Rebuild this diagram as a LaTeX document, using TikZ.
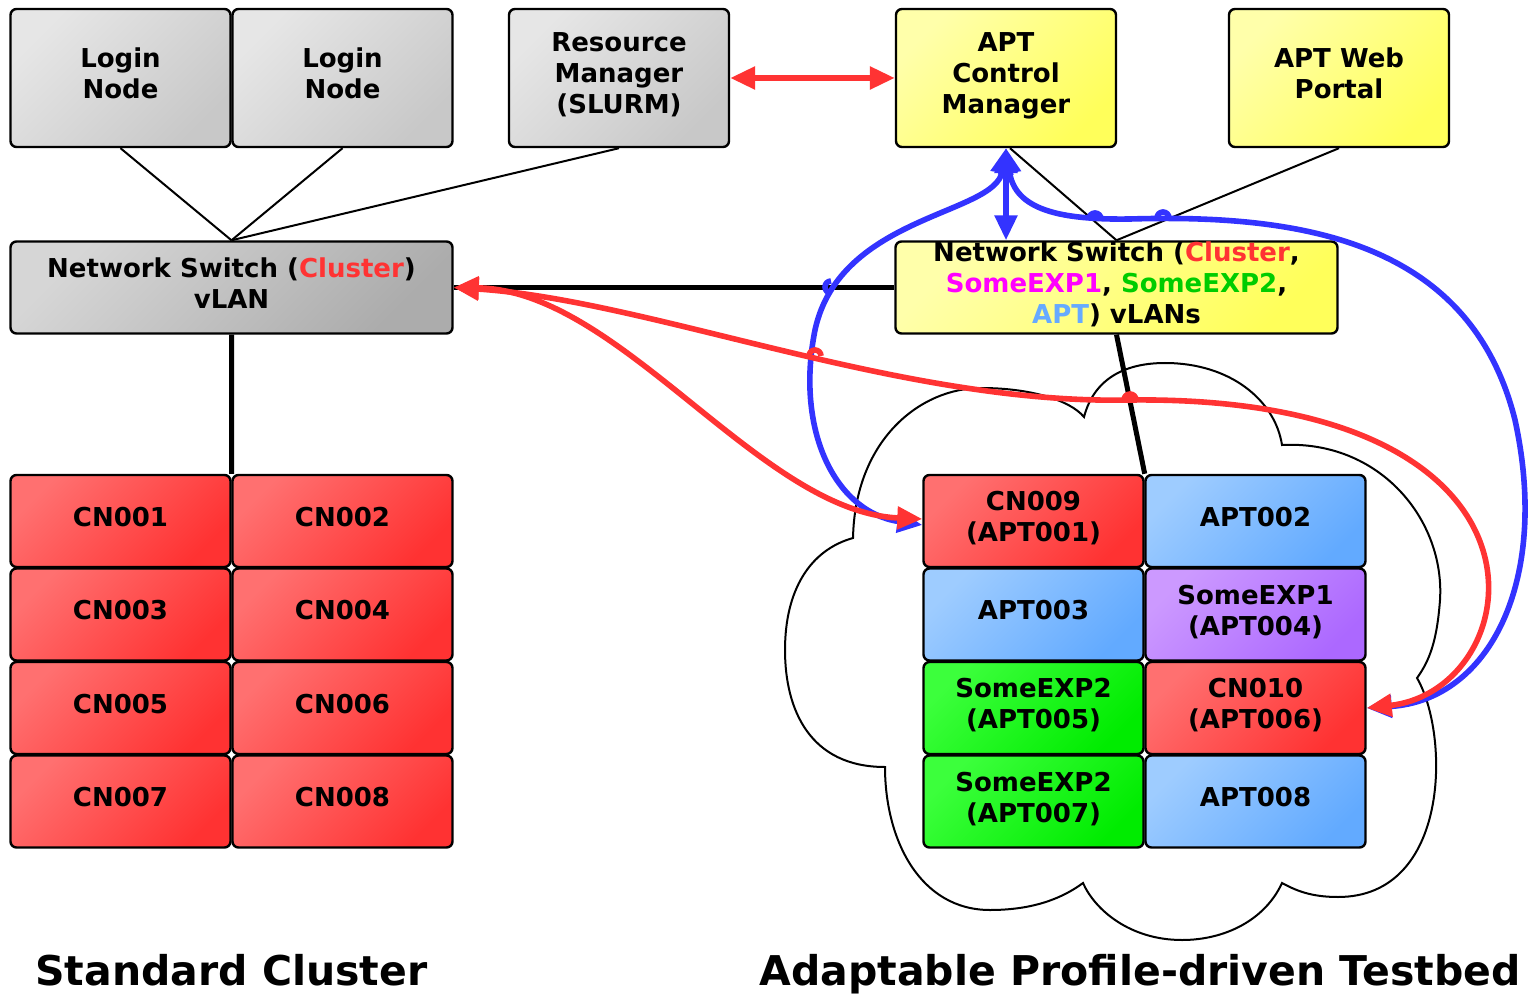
\documentclass[tikz,border=0pt]{standalone}
\usepackage{fontspec}
\setmainfont{DejaVu Sans}
\usetikzlibrary{arrows.meta}

\definecolor{grayL}{RGB}{230,230,230}
\definecolor{grayD}{RGB}{200,200,200}
\definecolor{swL}{RGB}{214,214,214}
\definecolor{swD}{RGB}{172,172,172}
\definecolor{yelL}{RGB}{255,255,170}
\definecolor{yelD}{RGB}{255,255,90}
\definecolor{redL}{RGB}{255,112,112}
\definecolor{redD}{RGB}{255,50,50}
\definecolor{bluL}{RGB}{158,204,255}
\definecolor{bluD}{RGB}{98,170,255}
\definecolor{purL}{RGB}{204,153,255}
\definecolor{purD}{RGB}{172,104,255}
\definecolor{grnL}{RGB}{60,255,60}
\definecolor{grnD}{RGB}{0,236,0}
\definecolor{lnRed}{RGB}{255,51,51}
\definecolor{lnBlue}{RGB}{51,51,255}
\definecolor{txMag}{RGB}{255,0,255}
\definecolor{txGrn}{RGB}{0,204,0}
\definecolor{txBlu}{RGB}{102,170,255}

\tikzset{every picture/.style={line width=0.75pt}}
\tikzset{
	box/.style={draw=black, line width=1.2pt, rounded corners=3pt, inner sep=0pt, align=center,
		font=\bfseries\fontsize{13}{15.5}\selectfont, execute at end node={\rule[-4.5pt]{0pt}{4.5pt}}},
	bigbox/.style={box, minimum width=110pt, minimum height=69pt},
	swbox/.style={box, minimum width=221pt, minimum height=46pt},
	cell/.style={box, minimum width=110pt, minimum height=46pt},
	grayfill/.style={top color=grayL, bottom color=grayD, shading angle=45},
	swfill/.style={top color=swL, bottom color=swD, shading angle=45},
	yelfill/.style={top color=yelL, bottom color=yelD, shading angle=45},
	redfill/.style={top color=redL, bottom color=redD, shading angle=45},
	blufill/.style={top color=bluL, bottom color=bluD, shading angle=45},
	purfill/.style={top color=purL, bottom color=purD, shading angle=45},
	grnfill/.style={top color=grnL, bottom color=grnD, shading angle=45},
	thinlink/.style={draw=black, line width=1pt},
	thicklink/.style={draw=black, line width=2.5pt},
	redlink/.style={draw=lnRed, line width=2.8pt, {Triangle[length=12.5pt,width=11pt]}-{Triangle[length=12.5pt,width=11pt]}},
	blulink/.style={draw=lnBlue, line width=2.8pt, {Triangle[length=12.5pt,width=11pt]}-{Triangle[length=12.5pt,width=11pt]}},
	redhop/.style={draw=lnRed, line width=2.8pt},
	bluhop/.style={draw=lnBlue, line width=2.8pt},
	title/.style={font=\bfseries\fontsize{20.5}{24}\selectfont, anchor=base}
}

\begin{document}
\begin{tikzpicture}[x=0.5pt,y=0.5pt,yscale=-1,xscale=1]
	\useasboundingbox (0,0) rectangle (1530,994);
	
	%Shape: Cloud
	\draw [line width=1pt] (885,767) .. controls (810,767) and (785,710) .. (785,650) .. controls (785,590) and (810,550) .. (853,538)
		.. controls (855,440) and (920,388) .. (981,388) .. controls (1030,388) and (1070,400) .. (1084,417)
		.. controls (1095,375) and (1130,363) .. (1165,363) .. controls (1230,363) and (1275,400) .. (1282,445)
		.. controls (1380,440) and (1445,520) .. (1440,600) .. controls (1437,640) and (1430,660) .. (1417,678)
		.. controls (1450,735) and (1450,897) .. (1338,897) .. controls (1310,897) and (1295,890) .. (1282,883)
		.. controls (1265,920) and (1225,940) .. (1182,940) .. controls (1130,940) and (1095,910) .. (1083,883)
		.. controls (1060,900) and (1030,910) .. (990,910) .. controls (920,910) and (885,840) .. (885,767) -- cycle ;
	
	%Top row
	\node [bigbox, grayfill] (login1) at (120.5,78) {Login\\Node};
	\node [bigbox, grayfill] (login2) at (342.5,78) {Login\\Node};
	\node [bigbox, grayfill] (slurm) at (619,78) {Resource\\Manager\\(SLURM)};
	\node [bigbox, yelfill] (ctrl) at (1006,78) {APT\\Control\\Manager};
	\node [bigbox, yelfill] (portal) at (1339,78) {APT Web\\Portal};
	
	%Switches
	\node [swbox, swfill] (swclu) at (231.5,287.5) {Network Switch (\textcolor{lnRed}{Cluster})\\vLAN};
	\node [swbox, yelfill] (swapt) at (1116.5,287.5) {Network Switch (\textcolor{lnRed}{Cluster},\\
		\textcolor{txMag}{SomeEXP1}, \textcolor{txGrn}{SomeEXP2},\\\textcolor{txBlu}{APT}) vLANs};
	
	%Standard cluster nodes
	\node [cell, redfill] (cn1) at (120.5,521) {CN001};
	\node [cell, redfill] (cn2) at (342.5,521) {CN002};
	\node [cell, redfill] (cn3) at (120.5,614.5) {CN003};
	\node [cell, redfill] (cn4) at (342.5,614.5) {CN004};
	\node [cell, redfill] (cn5) at (120.5,708) {CN005};
	\node [cell, redfill] (cn6) at (342.5,708) {CN006};
	\node [cell, redfill] (cn7) at (120.5,801.5) {CN007};
	\node [cell, redfill] (cn8) at (342.5,801.5) {CN008};
	
	%Testbed nodes
	\node [cell, redfill] (apt1) at (1033.5,521) {CN009\\(APT001)};
	\node [cell, blufill] (apt2) at (1255.5,521) {APT002};
	\node [cell, blufill] (apt3) at (1033.5,614.5) {APT003};
	\node [cell, purfill] (apt4) at (1255.5,614.5) {SomeEXP1\\(APT004)};
	\node [cell, grnfill] (apt5) at (1033.5,708) {SomeEXP2\\(APT005)};
	\node [cell, redfill] (apt6) at (1255.5,708) {CN010\\(APT006)};
	\node [cell, grnfill] (apt7) at (1033.5,801.5) {SomeEXP2\\(APT007)};
	\node [cell, blufill] (apt8) at (1255.5,801.5) {APT008};
	
	%Links
	\draw [thinlink] (login1.south) -- (swclu.north);
	\draw [thinlink] (login2.south) -- (swclu.north);
	\draw [thinlink] (slurm.south) -- (swclu.north);
	\draw [thinlink] ([xshift=2pt]ctrl.south) -- (swapt.north);
	\draw [thinlink] (portal.south) -- (swapt.north);
	\draw [thicklink] (swclu.east) -- (swapt.west);
	\draw [thicklink] (swclu.south) -- (cn1.north east);
	\draw [thicklink] (swapt.south) -- (apt1.north east);
	
	%Blue arrows
	\draw [blulink] (ctrl.south) -- (ctrl.south |- swapt.north);
	\draw [blulink] (ctrl.south) .. controls (995,215) and (840,215) .. (815,330) .. controls (795,430) and (835,512) .. ([yshift=2pt]apt1.west);
	\draw [blulink] (ctrl.south) .. controls (1015,210) and (1060,220) .. (1130,219) .. controls (1300,214) and (1470,240) .. (1515,420) .. controls (1550,580) and (1490,700) .. (apt6.east);
	
	%Red arrows
	\draw [redlink] (slurm.east) -- (ctrl.west);
	\draw [redlink] (swclu.east) .. controls (620,290) and (760,512) .. ([yshift=-1pt]apt1.west);
	\draw [redlink] (swclu.east) .. controls (650,300) and (900,405) .. (1130,400) .. controls (1580,395) and (1530,690) .. (apt6.east);
	
	%Line jumps
	\draw [redhop] (809,356) arc [start angle=180, end angle=360, radius=6];
	\draw [redhop] (1124,400) arc [start angle=180, end angle=360, radius=6];
	\draw [bluhop] (1089,219) arc [start angle=180, end angle=360, radius=6];
	\draw [bluhop] (1157,218) arc [start angle=180, end angle=360, radius=6];
	\draw [bluhop] (831,281) arc [start angle=270, end angle=90, radius=6];
	
	% Text Node
	\node [title] (stdlbl) at (231.5,985) {Standard Cluster};
	% Text Node
	\node [title] (aptlbl) at (1140,985) {Adaptable Profile-driven Testbed};
	
\end{tikzpicture}
\end{document}
